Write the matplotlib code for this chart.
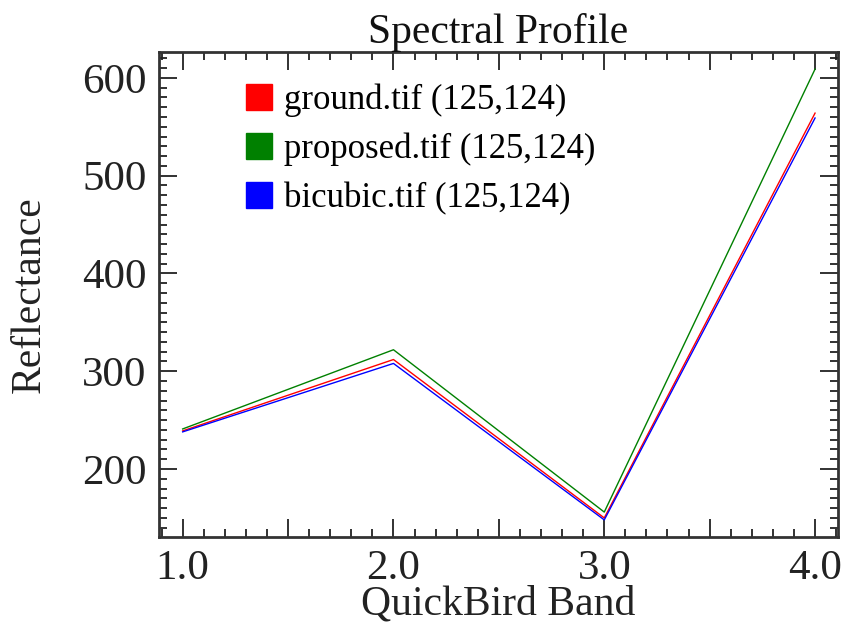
import numpy as np
import matplotlib.pyplot as plt
from matplotlib.patches import Patch
from matplotlib.ticker import MultipleLocator, FixedFormatter, FixedLocator

# QuickBird bands and reflectance at pixel (125,124)
bands = [1.0, 2.0, 3.0, 4.0]
ground = [239, 312, 150, 564]
proposed = [241, 322, 156, 609]
bicubic = [238, 308, 148, 559]

series_names = ['ground.tif (125,124)', 'proposed.tif (125,124)', 'bicubic.tif (125,124)']
series_colors = ['#ff0000', '#008000', '#0000ff']

plt.rcParams['font.family'] = ['Liberation Serif', 'DejaVu Serif']

fig = plt.figure(figsize=(8.45, 6.25), dpi=100)
ax = fig.add_axes([0.188, 0.1408, 0.804, 0.776])

for vals, name, col in zip([ground, proposed, bicubic], series_names, series_colors):
    ax.plot(bands, vals, color=col, linewidth=1.0, label=name)

ax.set_xlim(0.887, 4.11)
ax.set_ylim(130.5, 626.5)

# major ticks every 0.5 but only integer bands labelled
ax.xaxis.set_major_locator(FixedLocator([1.0, 1.5, 2.0, 2.5, 3.0, 3.5, 4.0]))
ax.xaxis.set_major_formatter(FixedFormatter(['1.0', '', '2.0', '', '3.0', '', '4.0']))
ax.xaxis.set_minor_locator(MultipleLocator(0.1))
ax.yaxis.set_major_locator(MultipleLocator(100))
ax.yaxis.set_minor_locator(MultipleLocator(10))

ax.tick_params(which='both', direction='in', top=True, right=True,
               color='#222222', width=1.3)
ax.tick_params(which='major', length=13, labelsize=31, pad=9, labelcolor='#222222')
ax.tick_params(which='minor', length=6)
for sp in ax.spines.values():
    sp.set_linewidth(2.0)
    sp.set_color('#333333')

ax.set_title('Spectral Profile', fontsize=30, pad=5, color='#111111')
ax.set_xlabel('QuickBird Band', fontsize=30, labelpad=-2, color='#222222')
ax.set_ylabel('Reflectance', fontsize=30, labelpad=24, color='#222222')

handles = [Patch(facecolor=c, edgecolor=c) for c in series_colors]
ax.legend(handles, series_names, loc='upper left', bbox_to_anchor=(0.128, 0.935),
          frameon=False, fontsize=25, handlelength=0.75, handleheight=0.75,
          handletextpad=0.35, labelspacing=0.45, borderpad=0, borderaxespad=0)

fig.savefig('out.png', dpi=100)
